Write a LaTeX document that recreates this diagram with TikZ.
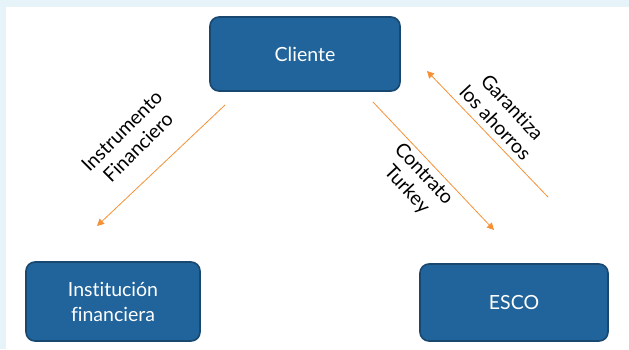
\documentclass[tikz,border=0pt]{standalone}
\usepackage{fontspec}
\setmainfont{Lato}[Ligatures={NoCommon}]
\usetikzlibrary{arrows.meta}
\definecolor{boxfill}{RGB}{32,100,155}
\definecolor{boxline}{RGB}{24,72,112}
\definecolor{arr}{RGB}{244,145,55}
\definecolor{bgblue}{RGB}{230,244,250}
\begin{document}
\begin{tikzpicture}[x=1pt,y=-1pt,
  box/.style={draw=boxline,line width=1.6pt,fill=boxfill,rounded corners=9pt,
    text=white,font=\fontsize{19.5}{25}\selectfont,align=center,inner sep=0pt},
  flow/.style={draw=arr,line width=0.8pt,-{Triangle[length=7pt,width=7pt]}},
  lbl/.style={font=\fontsize{19.5}{23}\selectfont,align=center,text=black,inner sep=0pt}]
\useasboundingbox (0,0) rectangle (629,349);
\fill[bgblue] (0,0) rectangle (629,349);
\fill[white] (6,7) rectangle (629,349);
\node[box,minimum width=190pt,minimum height=74pt] (cli) at (305,54) {Cliente};
\node[box,minimum width=174pt,minimum height=79pt] (inst) at (113,301.5) {Institución\\financiera};
\node[box,minimum width=188pt,minimum height=77pt] (esco) at (514,302.5) {ESCO};
\coordinate (a1) at (225,105);
\coordinate (a2) at (97,226);
\coordinate (b1) at (373,102);
\coordinate (b2) at (494,230);
\coordinate (c1) at (548,197);
\coordinate (c2) at (427,71);
\draw[flow] (a1) -- (a2);
\draw[flow] (b1) -- (b2);
\draw[flow] (c1) -- (c2);
\node[lbl,rotate=45] (la) at (130,139) {Instrumento\\Financiero};
\node[lbl,rotate=-47] (lb) at (415,182) {Contrato\\Turkey};
\node[lbl,rotate=-47] (lc) at (504,115) {Garantiza\\los ahorros};
\end{tikzpicture}
\end{document}
